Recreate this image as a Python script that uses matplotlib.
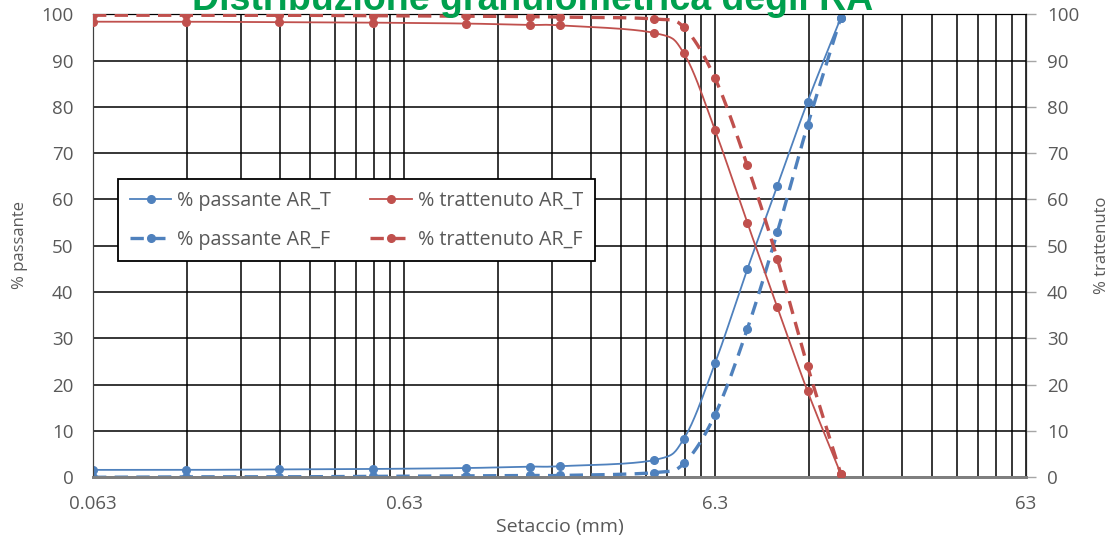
import numpy as np
import matplotlib
matplotlib.use("Agg")
import matplotlib.pyplot as plt
from matplotlib.lines import Line2D
from matplotlib.ticker import FixedLocator, NullFormatter

plt.rcParams['font.family'] = ['Open Sans', 'DejaVu Sans']

# sieve sizes (mm)
setacci = [0.063, 0.125, 0.25, 0.5, 1.0, 1.6, 2.0, 4.0, 5.0, 6.3, 8.0, 10.0, 12.5, 16.0]

passante_T = [1.6, 1.6, 1.7, 1.8, 2.0, 2.3, 2.4, 3.7, 8.3, 24.6, 44.9, 63.0, 81.1, 99.3]
trattenuto_T = [98.4, 98.4, 98.3, 98.2, 98.0, 97.7, 97.6, 96.0, 91.6, 75.0, 55.0, 36.7, 18.6, 0.7]
passante_F = [0.0, 0.1, 0.1, 0.2, 0.3, 0.4, 0.4, 1.0, 3.0, 13.5, 32.0, 53.0, 76.0, 99.3]
trattenuto_F = [99.8, 99.8, 99.8, 99.7, 99.6, 99.5, 99.4, 99.0, 97.2, 86.2, 67.4, 47.1, 24.0, 0.7]

x_ticks = [0.063, 0.63, 6.3, 63]
x_tick_labels = ['0.063', '0.63', '6.3', '63']
y_ticks = list(range(0, 101, 10))

blu = '#4F81BD'
rosso = '#C0504D'
grigio = '#595959'


def smooth(xs, ys, n=20):
    # Excel-style smoothed line (Catmull-Rom bezier) in log-x space
    u = np.log10(np.asarray(xs, float))
    v = np.asarray(ys, float)
    pts = np.column_stack([u, v])
    P = np.vstack([pts[0], pts, pts[-1]])
    out = [pts[0]]
    t = np.linspace(0, 1, n + 1)[1:, None]
    for i in range(1, len(P) - 2):
        p0, p1, p2, p3 = P[i - 1], P[i], P[i + 1], P[i + 2]
        c1 = p1 + (p2 - p0) / 6
        c2 = p2 - (p3 - p1) / 6
        seg = ((1 - t) ** 3) * p1 + 3 * ((1 - t) ** 2) * t * c1 + 3 * (1 - t) * t ** 2 * c2 + t ** 3 * p2
        out.extend(seg)
    out = np.array(out)
    return 10 ** out[:, 0], out[:, 1]


fig = plt.figure(figsize=(11.11, 5.39), dpi=100)
ax = fig.add_axes([93 / 1111, 1 - 477.3 / 539, 933 / 1111, 463 / 539])
ax2 = ax.twinx()

dash = (0, (4, 2.5))
lw_s, lw_d, ms = 1.3, 2.4, 5.5

for ys, ls, lw, a in [(passante_T, '-', lw_s, ax), (passante_F, dash, lw_d, ax)]:
    sx, sy = smooth(setacci, ys)
    a.plot(sx, sy, color=blu, linestyle=ls, linewidth=lw, zorder=3)
    a.plot(setacci, ys, linestyle='none', marker='o', color=blu, markersize=ms, zorder=4)
for ys, ls, lw, a in [(trattenuto_T, '-', lw_s, ax2), (trattenuto_F, dash, lw_d, ax2)]:
    sx, sy = smooth(setacci, ys)
    a.plot(sx, sy, color=rosso, linestyle=ls, linewidth=lw, zorder=3)
    a.plot(setacci, ys, linestyle='none', marker='o', color=rosso, markersize=ms, zorder=4)

ax.set_xscale('log')
ax.set_xlim(0.063, 63)
ax.set_ylim(0, 100)
ax2.set_ylim(0, 100)
ax.xaxis.set_major_locator(FixedLocator(x_ticks))
ax.set_xticklabels(x_tick_labels)
minori = [0.063 * k * 10 ** d for d in range(3) for k in range(2, 10)]
ax.xaxis.set_minor_locator(FixedLocator(minori))
ax.xaxis.set_minor_formatter(NullFormatter())
ax.set_yticks(y_ticks)
ax2.set_yticks(y_ticks)

ax.grid(True, which='both', axis='x', color='black', linewidth=1.1)
ax.grid(True, which='major', axis='y', color='black', linewidth=1.1)
ax.set_axisbelow(True)

ax.tick_params(axis='x', which='both', length=0, pad=13, labelsize=13.5, labelcolor=grigio)
ax.tick_params(axis='y', length=0, pad=14, labelsize=13.5, labelcolor=grigio)
ax2.tick_params(axis='y', length=7, width=1, color='#A6A6A6', direction='out', pad=8,
                labelsize=13.5, labelcolor=grigio)

for a in (ax, ax2):
    a.spines['bottom'].set_color('#7F7F7F')
    a.spines['bottom'].set_linewidth(2)
    a.spines['left'].set_color('#404040')
    a.spines['right'].set_color('#262626')
    a.spines['top'].set_color('black')

ax.set_xlabel('Setaccio (mm)', fontsize=14, color=grigio, va='center')
ax.xaxis.set_label_coords(0.5, -(527 - 477.3) / 463)
ax.set_ylabel('% passante', fontsize=12, color=grigio, va='center')
ax.yaxis.set_label_coords(-(93 - 20) / 933, (477.3 - 245) / 463)
ax2.set_ylabel('% trattenuto', fontsize=12, color=grigio, va='center', rotation=90)
ax2.yaxis.set_label_coords(1 + (1102 - 1026) / 933, (477.3 - 245) / 463)

handles = [
    Line2D([], [], color=blu, linestyle='-', linewidth=lw_s, marker='o', markersize=ms),
    Line2D([], [], color=blu, linestyle=dash, linewidth=lw_d, marker='o', markersize=ms),
    Line2D([], [], color=rosso, linestyle='-', linewidth=lw_s, marker='o', markersize=ms),
    Line2D([], [], color=rosso, linestyle=dash, linewidth=lw_d, marker='o', markersize=ms),
]
labels = ['% passante AR_T', '% passante AR_F', '% trattenuto AR_T', '% trattenuto AR_F']
leg = ax2.legend(handles, labels, ncol=2, loc='upper left',
                 bbox_to_anchor=((118 - 93) / 933, (477.3 - 179) / 463),
                 borderaxespad=0, fancybox=False, framealpha=1, edgecolor='black',
                 fontsize=14.2, handlelength=2.1, handletextpad=0.3, columnspacing=2.0,
                 labelspacing=0.95, borderpad=0.6, labelcolor=grigio)
leg.get_frame().set_linewidth(1.3)

fig.text(533 / 1111, 1 - 10 / 539, 'Distribuzione granulometrica degli RA',
         ha='center', va='baseline', fontsize=27, fontweight='bold',
         color='#00A04E', family=['Liberation Sans', 'DejaVu Sans'])

fig.savefig('out.png', dpi=100)
